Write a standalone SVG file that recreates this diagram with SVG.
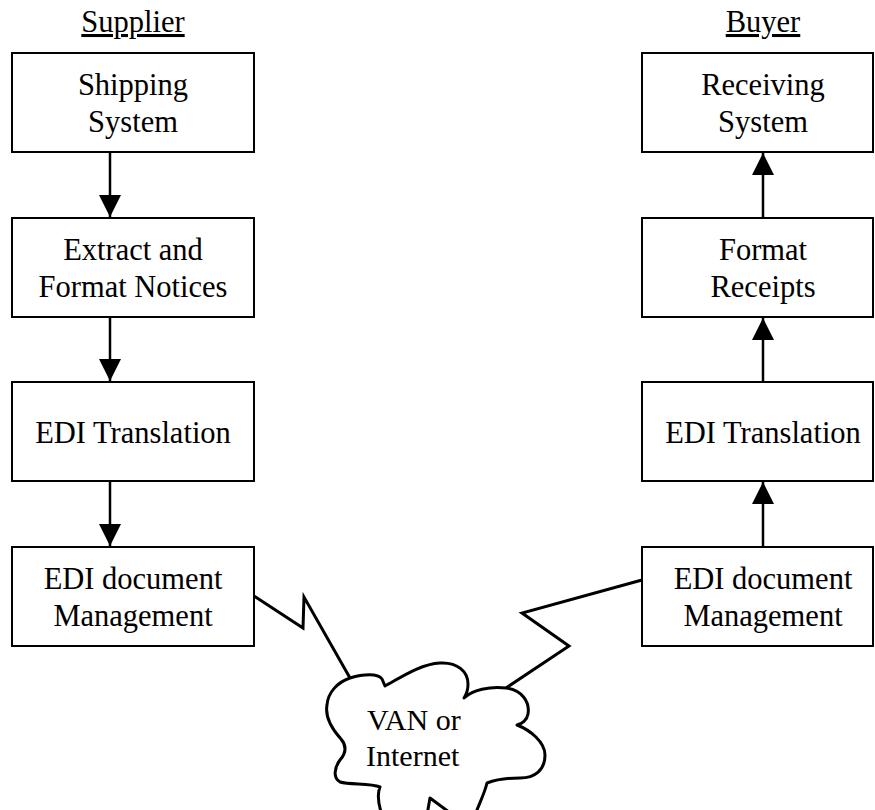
<svg xmlns="http://www.w3.org/2000/svg" width="875" height="810" viewBox="0 0 875 810">
<style>
  .box { fill: #fff; stroke: #000; stroke-width: 2; }
  .lbl { font-family: "Liberation Serif", "Times New Roman", serif; font-size: 30.5px; fill: #000; text-anchor: middle; }
  .hdr { font-family: "Liberation Serif", "Times New Roman", serif; font-size: 30.5px; fill: #000; text-anchor: middle; text-decoration: underline; }
  .cloudtxt { font-family: "Liberation Serif", "Times New Roman", serif; font-size: 30px; fill: #000; }
  .arrow { stroke: #000; stroke-width: 2.5; fill: none; marker-end: url(#head); }
  .zig { stroke: #000; stroke-width: 3; fill: none; stroke-linejoin: miter; }
  .cloud { fill: #fff; stroke: #000; stroke-width: 3; stroke-linejoin: round; }
</style>
<defs>
  <marker id="head" markerUnits="userSpaceOnUse" markerWidth="22" markerHeight="22" refX="22" refY="11" orient="auto">
    <path d="M0,0 L22,11 L0,22 Z" fill="#000"/>
  </marker>
</defs>
<rect width="875" height="810" fill="#fff"/>

<text class="hdr" x="133" y="32">Supplier</text>
<text class="hdr" x="763" y="32">Buyer</text>

<g id="connectors">
  <line class="arrow" x1="110" y1="152" x2="110" y2="217"/>
  <line class="arrow" x1="110" y1="317" x2="110" y2="381"/>
  <line class="arrow" x1="110" y1="481" x2="110" y2="546"/>
  <line class="arrow" x1="763" y1="218" x2="763" y2="153"/>
  <line class="arrow" x1="763" y1="382" x2="763" y2="318"/>
  <line class="arrow" x1="763" y1="547" x2="763" y2="482"/>
  <polyline class="zig" points="254,596 303,628 304,597 350,678"/>
  <polyline class="zig" points="642,580 522,613 569,646 506,688"/>
</g>

<g id="shipping">
  <rect class="box" x="12" y="53" width="242" height="99"/>
  <text class="lbl" x="133" y="95">Shipping</text>
  <text class="lbl" x="133" y="132">System</text>
</g>
<g id="extract">
  <rect class="box" x="12" y="218" width="242" height="99"/>
  <text class="lbl" x="133" y="260">Extract and</text>
  <text class="lbl" x="133" y="297">Format Notices</text>
</g>
<g id="edi-trans-s">
  <rect class="box" x="12" y="382" width="242" height="99"/>
  <text class="lbl" x="133" y="443">EDI Translation</text>
</g>
<g id="edi-doc-s">
  <rect class="box" x="12" y="547" width="242" height="99"/>
  <text class="lbl" x="133" y="589">EDI document</text>
  <text class="lbl" x="133" y="626">Management</text>
</g>

<g id="receiving">
  <rect class="box" x="642" y="53" width="231" height="99"/>
  <text class="lbl" x="763" y="95">Receiving</text>
  <text class="lbl" x="763" y="132">System</text>
</g>
<g id="format">
  <rect class="box" x="642" y="218" width="231" height="99"/>
  <text class="lbl" x="763" y="260">Format</text>
  <text class="lbl" x="763" y="297">Receipts</text>
</g>
<g id="edi-trans-b">
  <rect class="box" x="642" y="382" width="231" height="99"/>
  <text class="lbl" x="763" y="443">EDI Translation</text>
</g>
<g id="edi-doc-b">
  <rect class="box" x="642" y="547" width="231" height="99"/>
  <text class="lbl" x="763" y="589">EDI document</text>
  <text class="lbl" x="763" y="626">Management</text>
</g>

<g id="cloud">
  <path class="cloud" d="M350,678
    C363,674 378,673 382,679 L385,686
    C400,678 420,664 440,663 C458,662 468,672 468,684 C468,690 466,695 464,698
    C472,690 490,686 506,688 C522,690 530,702 528,714 C527,720 522,724 517,725
    C530,730 545,742 545,755 C545,770 535,778 520,778 C505,778 495,780 487,783
    C485,792 480,802 475,815
    L453,815 L430,798 L427,815
    L382,815 C378,803 377,794 380,787
    C370,783 350,785 340,782 C333,778 334,768 340,760 C346,753 347,746 341,739
    C332,729 325,716 327,705 C328,692 338,682 350,678 Z"/>
  <text class="cloudtxt" x="367" y="730">VAN or</text>
  <text class="cloudtxt" x="366" y="766">Internet</text>
</g>
</svg>
